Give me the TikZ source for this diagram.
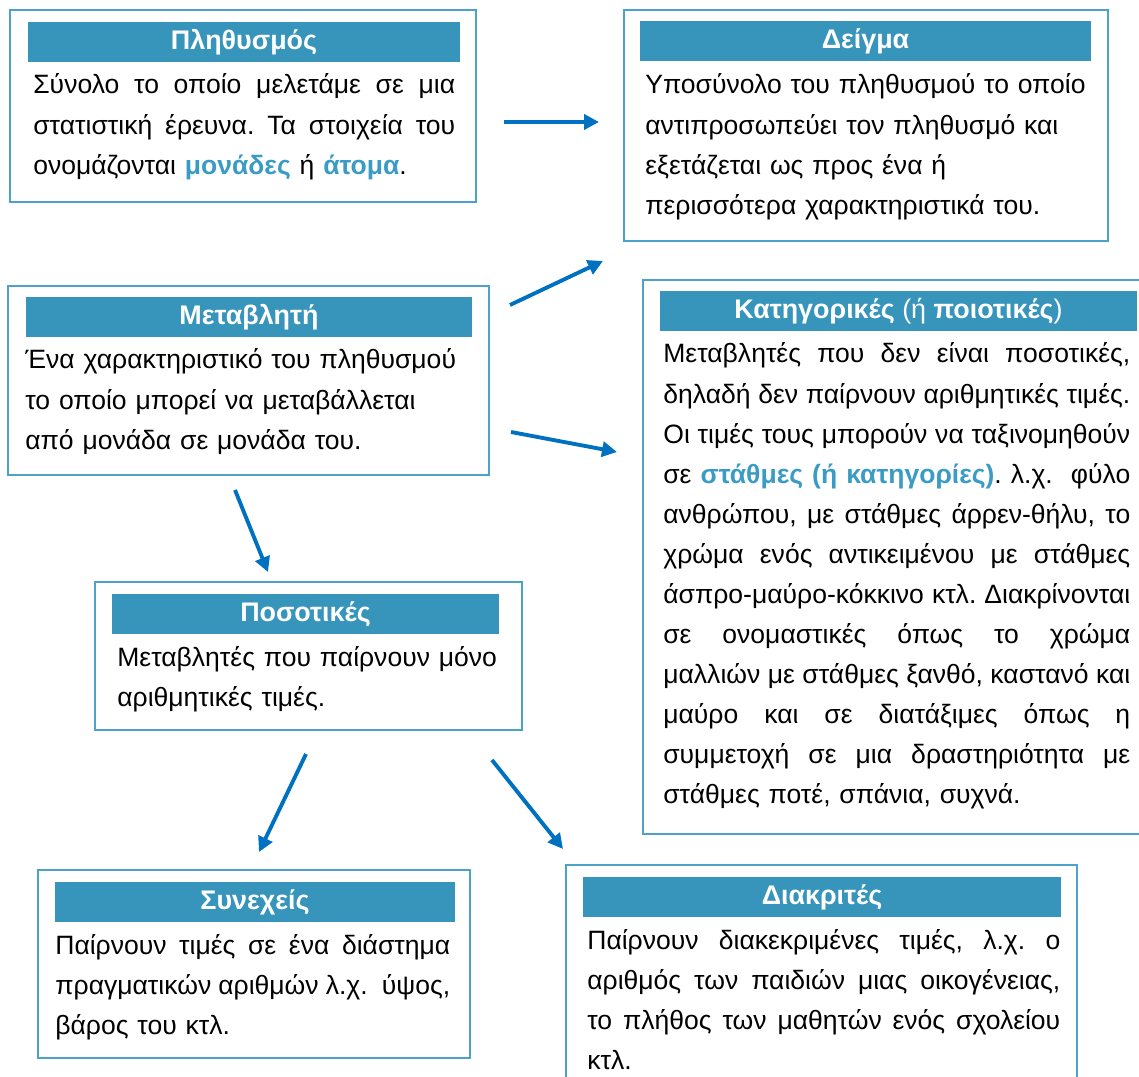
\documentclass[tikz,border=0pt]{standalone}
\usepackage{fontspec}
\setmainfont{Liberation Sans}
\usepackage{tikz}
\usetikzlibrary{arrows.meta}
\frenchspacing
\definecolor{FrameBlue}{HTML}{4BA3C9}
\definecolor{HeadBlue}{HTML}{3795BB}
\definecolor{KeyBlue}{HTML}{3A9BC5}
\definecolor{ArrowBlue}{HTML}{0070C0}
\newcommand{\keyword}[1]{\textcolor{KeyBlue}{\bfseries #1}}
\newcommand{\fullline}[1]{\makebox[\hsize][s]{\spaceskip=0pt\xspaceskip=0pt #1}}
\tikzset{
  boxframe/.style={draw=FrameBlue,line width=1.2pt,inner sep=0pt},
  headbar/.style={fill=HeadBlue,inner sep=0pt,minimum height=0.80cm,
    font=\fontsize{15.3}{17}\selectfont\bfseries,text=white},
  bodytext/.style={anchor=base west,inner sep=0pt,align=left,
    font=\fontsize{15.1}{22.8}\selectfont},
  link/.style={draw=ArrowBlue,line width=2.2pt,
    -{Triangle[length=0.30cm,width=0.30cm]}},
}
\begin{document}
\begin{tikzpicture}[x=0.02cm,y=-0.02cm]
  \useasboundingbox (0,0) rectangle (1139,1077);
  \clip (0,0) rectangle (1139,1077);
  % population
  \node[boxframe,minimum width=9.32cm,minimum height=3.84cm] (pop) at (243,106) {};
  \node[headbar,minimum width=8.64cm] (popHead) at (244,42) {Πληθυσμός};
  \node[bodytext,text width=8.44cm] (popText) at (33,94) {%
    \fullline{Σύνολο το οποίο μελετάμε σε μια}\\
    \fullline{στατιστική έρευνα. Τα στοιχεία του}\\
    ονομάζονται \keyword{μονάδες} ή \keyword{άτομα}.};
  % sample
  \node[boxframe,minimum width=9.68cm,minimum height=4.62cm] (smp) at (866,125.5) {};
  \node[headbar,minimum width=9.02cm] (smpHead) at (865.5,41.5) {Δείγμα};
  \node[bodytext,text width=9.0cm] (smpText) at (645,94) {%
    Υποσύνολο του πληθυσμού το οποίο\\
    αντιπροσωπεύει τον πληθυσμό και\\
    εξετάζεται ως προς ένα ή\\
    περισσότερα χαρακτηριστικά του.};
  % variable
  \node[boxframe,minimum width=9.62cm,minimum height=3.78cm] (var) at (248.5,380.5) {};
  \node[headbar,minimum width=8.92cm] (varHead) at (249,317) {Μεταβλητή};
  \node[bodytext,text width=9.2cm] (varText) at (25,369) {%
    Ένα χαρακτηριστικό του πληθυσμού\\
    το οποίο μπορεί να μεταβάλλεται\\
    από μονάδα σε μονάδα του.};
  % categorical
  \node[boxframe,minimum width=10.14cm,minimum height=11.08cm] (cat) at (896.5,557) {};
  \node[headbar,minimum width=9.54cm] (catHead) at (898.5,311)
    {Κατηγορικές \textmd{(ή} ποιοτικές\textmd{)}};
  \node[bodytext,text width=9.34cm] (catText) at (663,363) {%
    \fullline{Μεταβλητές που δεν είναι ποσοτικές,}\\
    \fullline{δηλαδή δεν παίρνουν αριθμητικές τιμές.}\\
    \fullline{Οι τιμές τους μπορούν να ταξινομηθούν}\\
    \fullline{σε \keyword{στάθμες (ή κατηγορίες)}. λ.χ.\ \ φύλο}\\
    \fullline{ανθρώπου, με στάθμες άρρεν-θήλυ, το}\\
    \fullline{χρώμα ενός αντικειμένου με στάθμες}\\
    \fullline{άσπρο-μαύρο-κόκκινο κτλ. Διακρίνονται}\\
    \fullline{σε ονομαστικές όπως το χρώμα}\\
    \fullline{μαλλιών με στάθμες ξανθό, καστανό και}\\
    \fullline{μαύρο και σε διατάξιμες όπως η}\\
    \fullline{συμμετοχή σε μια δραστηριότητα με}\\
    στάθμες ποτέ, σπάνια, συχνά.};
  % quantitative
  \node[boxframe,minimum width=8.54cm,minimum height=2.96cm] (qnt) at (308.5,656) {};
  \node[headbar,minimum width=7.74cm] (qntHead) at (305.5,614) {Ποσοτικές};
  \node[bodytext,text width=7.9cm] (qntText) at (117,666) {%
    Μεταβλητές που παίρνουν μόνο\\
    αριθμητικές τιμές.};
  % continuous
  \node[boxframe,minimum width=8.64cm,minimum height=3.76cm] (cnt) at (254,964) {};
  \node[headbar,minimum width=8.00cm] (cntHead) at (255,902) {Συνεχείς};
  \node[bodytext,text width=7.90cm] (cntText) at (55,954) {%
    \fullline{Παίρνουν τιμές σε ένα διάστημα}\\
    \fullline{πραγματικών αριθμών λ.χ.\ \ ύψος,}\\
    βάρος του κτλ.};
  % discrete
  \node[boxframe,minimum width=10.22cm,minimum height=4.60cm] (dsc) at (821.5,980) {};
  \node[headbar,minimum width=9.56cm] (dscHead) at (822,897) {Διακριτές};
  \node[bodytext,text width=9.46cm] (dscText) at (587,949) {%
    \fullline{Παίρνουν διακεκριμένες τιμές, λ.χ. ο}\\
    \fullline{αριθμός των παιδιών μιας οικογένειας,}\\
    \fullline{το πλήθος των μαθητών ενός σχολείου}\\
    κτλ.};
  % arrow ends
  \coordinate (popOut) at (504,122);
  \coordinate (smpIn)  at (599,122);
  \coordinate (varOutA) at (510,305);
  \coordinate (smpInB)  at (603,261);
  \coordinate (varOutB) at (511,432);
  \coordinate (catIn)   at (617,452);
  \coordinate (varOutC) at (235,490);
  \coordinate (qntIn)   at (268,572);
  \coordinate (qntOutA) at (306,754);
  \coordinate (cntIn)   at (259,852);
  \coordinate (qntOutB) at (492,760);
  \coordinate (dscIn)   at (563,849);
  \draw[link] (popOut) -- (smpIn);
  \draw[link] (varOutA) -- (smpInB);
  \draw[link] (varOutB) -- (catIn);
  \draw[link] (varOutC) -- (qntIn);
  \draw[link] (qntOutA) -- (cntIn);
  \draw[link] (qntOutB) -- (dscIn);
\end{tikzpicture}
\end{document}
